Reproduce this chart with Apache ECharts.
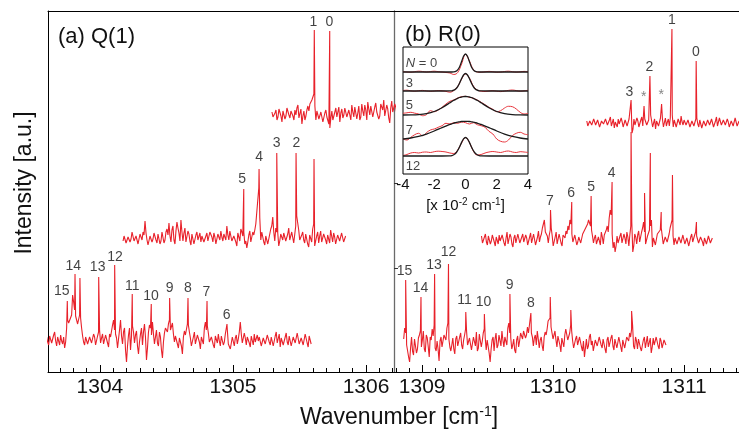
<!DOCTYPE html>
<html><head><meta charset="utf-8">
<script src="https://cdn.jsdelivr.net/npm/echarts@6/dist/echarts.min.js"></script>
<style>html,body{margin:0;padding:0;background:#fff}#c{width:739px;height:437px}</style>
</head><body><div id="c"></div><script>
// ---------------- data ----------------
const STEP = 0.015; // sampling step of the spectra [cm^-1]; "B" arrays are the samples half a step later

// Panel (a) Q(1): three spectra (top, middle, bottom)
const q1TopStart = 1305.293, q1TopBase = 258;
const q1TopNoise = [2,-5,4,-3,6,-8,1,-2,7,-4, 5,-6,-1,9,-3,-10,3,-2,8,10, 14,20,-6,2,-7,-3,-9,4,-5,-14,
  3,-4,6,-2,-8,5,-1,8,-5,2, 9,-3,6,1,-6,10,-2,4,12,-1, 6,-4,11,3,-2,8,14,-3,5,-9, 13,4,7];
const q1TopNoiseB = [-3,1,-6,5,-2,3,-5,6,-1,3, -2,4,6,-4,5,-2,-6,4,3,12, 17,8,3,-5,2,-8,1,-3,-10,-4,
  -6,2,-3,7,1,-4,6,-3,4,-6, 2,7,-5,8,-3,3,9,-6,5,8, -3,7,2,-5,10,4,-2,9,-4,6, 2,10,1];
const q1TopPeaks = [[1305.611,84],[1305.727,83]];

const q1MidStart = 1304.174, q1MidBase = 134;
const q1MidNoise = [-3,4,-6,2,-1,5,-4,3,-7,1, 6,17,-2,-6,3,-1,7,-5,2,-3, 4,-2,9,15,-4,12,-6,16,5,18,
  -3,10,-2,4,-7,2,-5,6,-1,-4, 3,-6,5,-2,8,-4,1,-5,3,7, -3,5,12,-2,6,-5,3,-8,4,9,
  2,-6,-10,3,-4,6,8,26,50,-2, 5,-7,3,-5,9,21,-3,6,-8,4, -2,7,-5,10,-3,4,-6,22,8,-4,
  6,-5,3,-9,4,9,-8,2,-5,7, -3,5,-6,2,8,-4,1,-7,4,-2,6,-3];
const q1MidNoiseB = [2,-5,1,-4,6,-3,2,-6,4,-2, 3,5,-7,2,-4,5,-2,4,-6,6, -5,6,3,2,8,-2,7,10,-3,6,
  5,-4,7,-3,4,-6,3,-2,5,2, -4,2,-3,6,1,5,-6,4,-2,1, 4,-2,3,7,-3,2,-4,5,-3,6,
  6,-3,-4,7,-2,3,14,38,20,6, -4,2,-6,4,12,6,10,5,-3,2, 5,-3,4,-2,6,-5,12,15,-2,3,
  -2,4,-6,3,-4,14,-3,6,2,-4, 4,-2,3,-5,2,5,-6,3,-3,5,-4,2];
const q1MidPeaks = [[1305.081,49],[1305.196,69],[1305.329,85],[1305.474,85],[1305.609,79]];

const q1LowStart = 1303.600, q1LowBase = 32;
const q1LowNoise = [3,-5,6,-2,8,-6,2,5,-4,-8, 12,17,19,45,30,20,18,22,4,-5, 2,-6,5,-1,3,-4,8,-3,6,-2,
  4,-7,3,15,10,2,-6,20,-4,12, -22,5,-10,14,-3,9,-14,6,-5,16, -20,8,12,18,-4,10,-6,3,-18,7,
  14,16,10,17,-2,5,-8,4,-14,9, 6,15,2,-5,8,-3,6,-9,4,12, 10,7,-4,5,-8,2,6,-6,3,-2,
  8,-4,-9,3,-6,5,1,18,-3,7, -5,4,-7,2,6,-4,-1,5,-8,3, -3,6,-5,2,-6,8,-2,-7,4,-4,
  7,-5,2,-8,5,-3,6,-6,3,-4,5,-7,2];
const q1LowNoiseB = [-2,4,-3,5,-1,3,-5,-1,3,-2, 20,15,25,38,24,16,25,12,-2,3, -4,3,-3,6,-5,4,10,2,-4,5,
  -3,6,9,20,6,-8,10,4,8,-10, -6,12,4,8,5,-6,-2,12,8,3, -8,15,5,6,3,-3,8,-10,-2,12,
  8,20,12,6,4,-4,2,-6,3,5, 16,8,-6,3,-4,5,-2,3,-4,18, 14,-2,3,-5,4,-3,-1,4,-5,6,
  10,-6,-3,5,2,-4,8,6,-5,2, 3,-3,4,-5,-2,5,3,-6,2,-4, 5,-2,3,-6,4,-3,6,2,-5,3,
  -2,4,-6,3,-3,7,-4,2,-5,6,-3,4,-4];
const q1LowPeaks = [[1303.755,39],[1303.813,66],[1303.850,62],[1303.991,63],[1304.111,75],[1304.243,46],
  [1304.386,36],[1304.524,42],[1304.662,42],[1304.805,39],[1304.955,16]];

// Panel (b) R(0)
const r0TopStart = 1310.257, r0TopBase = 249;
const r0TopNoise = [2,-4,3,-1,5,-3,1,-5,4,-2, 3,-4,6,-1,-5,2,4,-3,1,-6, 5,-2,3,-10,4,-3,2,-5,6,-2,
  3,-4,5,2,-3,-6,4,-2,3,-4, 5,1,-3,6,-4,2,-5,3,7,-2, 4,-3,1,-5,3,-2,5,-4,2,-6,
  4,-1,5,-3,2,-5,6,-2,3,-4, 5,-3,1,-5,4,-2,3,-1];
const r0TopNoiseB = [-3,2,-2,4,-2,3,-4,2,-1,4, -2,3,-3,4,1,-4,-1,5,-4,3, -3,4,5,-6,-2,5,-4,3,-3,4,
  -2,3,8,-4,4,2,-3,5,4,-2, -3,4,5,8,3,-4,4,-2,1,3, -2,3,-4,2,-3,4,-1,3,-5,2,
  -3,3,-2,4,-4,2,-3,5,-2,3, -2,4,-4,2,-3,5,-3,2];
const r0TopPeaks = [[1310.595,23],[1310.694,17],[1310.739,47],[1310.828,19],[1310.907,94],[1311.092,62]];

const r0MidStart = 1309.453, r0MidBase = 132;
const r0MidNoise = [4,-2,6,-5,3,-1,7,-6,2,5, -3,4,-6,8,-2,3,-7,5,-1,4, -5,6,-3,2,-6,7,-2,4,-4,9,
  3,12,20,6,-3,10,4,-5,8,-2, 5,-6,3,9,14,20,6,-4,7,-2, 4,-5,8,12,16,18,10,-3,5,-6,
  2,8,-4,6,14,22,25,-8,-12,4, -3,7,-5,2,8,-6,14,-12,6,-4, 9,3,12,8,-5,6,14,-7,3,-4,
  8,10,4,-6,5,-3,12,20,-5,3, -6,4,-2,7,-5,3,-4,6,-3,8, 2,-5,4,-6,3,-2,5,-4];
const r0MidNoiseB = [-3,3,-2,4,-4,5,-2,3,-4,-1, 5,-3,2,-4,6,-4,2,-3,6,-3, 3,-2,5,-5,3,-3,6,-5,3,-2,
  6,14,8,4,5,12,-6,3,-4,6, -3,5,2,6,10,16,-2,5,-5,3, -3,6,4,10,20,14,4,2,-4,3,
  -5,3,5,10,8,30,6,-2,-6,-3, 4,-3,6,-4,3,5,18,-6,3,5, -2,8,18,-4,4,10,20,2,-5,6,
  4,12,-4,3,-2,6,16,4,2,-4, 3,-3,5,-4,2,-6,3,-2,5,4, -3,3,-2,2,-4,4,-3,2];
const r0MidPeaks = [[1309.980,30],[1310.142,38],[1310.290,44],[1310.450,58],[1310.595,108],[1310.698,47],
  [1310.742,87],[1310.825,28],[1310.911,65],[1311.094,18]];

const r0LowStart = 1308.859, r0LowBase = 29;
const r0LowNoise = [4,10,-8,-19,6,-12,3,-6,8,-4, 12,-9,5,-14,3,7,-5,2,-18,6, -3,9,15,4,-8,5,-11,7,-4,10,
  -6,8,12,-3,6,-9,4,11,-5,7, 2,14,-7,5,-19,3,-8,10,-2,6, 12,-4,8,15,10,-6,4,-10,7,2,
  9,12,5,16,18,10,-3,8,12,-5, 6,-8,11,14,20,16,4,12,-4,6, -9,3,8,12,5,18,2,-6,7,-3,
  5,-8,-14,4,-3,9,2,-6,5,-4, 7,-5,3,-10,6,-2,8,-7,4,-3, 5,-9,2,-4,7,10,14,-3,6,-6,
  4,-8,3,-5,7,-2,-10,5,-4,8,-6,2,-7,4];
const r0LowNoiseB = [15,-2,-14,-5,-8,4,-10,5,12,3, -6,8,-4,6,14,18,-8,-6,2,-4, 8,3,20,-4,-2,-6,4,-3,6,-2,
  3,14,-2,5,-7,6,-3,-8,9,-4, 10,5,3,-10,-6,6,4,-5,8,-3, 3,6,-2,20,5,-2,-7,3,-4,10,
  4,14,8,10,20,6,5,-2,4,3, -3,6,8,22,25,10,8,3,7,-2, 5,-4,14,3,10,12,-5,4,-2,6,
  -4,2,-5,-6,6,-2,-8,3,-3,6, -2,4,-6,3,-4,5,-3,4,-5,6, -4,3,-5,6,2,6,18,-6,2,4,
  -5,-2,6,-3,-4,5,-4,-2,6,-3,5,-5,3,-2];
const r0LowPeaks = [[1308.874,63],[1308.991,46],[1309.095,69],[1309.201,79],[1309.333,31],[1309.475,29],
  [1309.670,49],[1309.830,30],[1309.978,46],[1310.135,33],[1310.599,32]];

// Peak labels (text, wavenumber, height)
const q1Labels = [['1',1305.604,350],['0',1305.724,350],['5',1305.068,193],['4',1305.196,215],['3',1305.329,229],
  ['2',1305.476,229],['15',1303.713,81],['14',1303.800,106],['13',1303.983,105],['12',1304.113,115],
  ['11',1304.243,86],['10',1304.384,76],['9',1304.524,84],['8',1304.662,84],['7',1304.800,80],['6',1304.953,57]];
const r0Labels = [['3',1310.582,280],['2',1310.734,305],['1',1310.907,352],['0',1311.089,320],
  ['7',1309.975,171],['6',1310.138,179],['5',1310.290,185],['4',1310.447,199],
  ['15',1308.866,101],['14',1308.988,84],['13',1309.090,107],['12',1309.201,120],['11',1309.323,72],
  ['10',1309.468,70],['9',1309.668,87],['8',1309.830,69]];
const r0Stars = [['*',1310.691,275],['*',1310.825,277]];

// Inset: line shapes, offset [x 10^-2 cm^-1]
const insetX = [-4,-3.75,-3.5,-3.25,-3,-2.75,-2.5,-2.25,-2,-1.75,-1.5,-1.25,-1,-0.75,-0.5,-0.25,0,
  0.25,0.5,0.75,1,1.25,1.5,1.75,2,2.25,2.5,2.75,3,3.25,3.5,3.75,4];
const insetN = ['N = 0','3','5','7','12'];
const insetData = [
  [102.5,102,101.8,102.3,102.8,102.5,102,102.4,102.8,102.3,102,101.5,101,99.5,101.5,110,119.5,113,104.5,102,101.8,102.2,102.6,102.3,101.8,102,102.5,102.8,102.3,101.9,102.2,102.6,102.3],
  [83.5,83.8,83.2,82.8,83.3,83.6,83.1,82.7,83,83.4,83.2,82.6,81.8,83.5,87.5,95,100,96,88,84,82.8,82.5,83,83.3,82.8,82.4,82.9,83.6,84,83.4,82.8,83.2,83.7],
  [60.7,61.2,61.7,60.8,60,58.3,59.3,63.3,62.3,64,66.7,70,72.7,74,76,77.3,77.7,76.7,75.7,74,71.7,69.3,66.7,64.7,62.3,63.3,66,67.7,67.3,65,61.7,60,60.7],
  [35,34,36.7,39.3,40.7,38.3,41.3,44,45,46.7,48.3,50.7,50,51.3,50.7,52,51.3,50,51.3,49.3,48.3,46.7,42.7,40,35,32.7,32,34,38.3,40.7,41.7,40,39.3],
  [18.5,19.5,21,21.5,21,21.8,22,21.5,22.3,22.8,22.5,22,21,20.5,24,31,36.5,31.5,23,19,19.5,21,22,22.5,22,21.5,22.5,23,22,21.5,22.3,22,21.5]
];
const fitX = [-4,-3.5,-3,-2.5,-2,-1.5,-1,-0.875,-0.75,-0.625,-0.5,-0.375,-0.25,-0.125,0,
  0.125,0.25,0.375,0.5,0.625,0.75,0.875,1,1.5,2,2.5,3,3.5,4];
const insetFit = [
  [102,102,102,102,102,102,102,102,102.1,102.6,104.1,107.3,112.5,117.7,120,117.7,112.5,107.3,104.1,102.6,102.1,102,102,102,102,102,102,102,102],
  [83,83,83,83,83,83,83.1,83.2,83.8,85,87.4,91,95.4,99,100.5,99,95.4,91,87.4,85,83.8,83.2,83.1,83,83,83,83,83,83],
  [59,59.1,59.45,60.4,62.5,66.3,71.2,72.5,73.7,74.7,75.7,76.5,77,77.4,77.5,77.4,77,76.5,75.7,74.7,73.7,72.5,71.2,66.3,62.5,60.4,59.45,59.1,59],
  [35,36,37.6,39.9,43,46.4,49.6,50.2,50.9,51.4,51.9,52.2,52.5,52.65,52.7,52.65,52.5,52.2,51.9,51.4,50.9,50.2,49.6,46.4,43,39.9,37.6,36,35],
  [18,18,18,18,18,18,18.1,18.4,19.2,20.7,23.5,27.3,31.6,35.1,36.5,35.1,31.6,27.3,23.5,20.7,19.2,18.4,18.1,18,18,18,18,18,18]
];
const insetLabelPos = [[-3.85,110.7],[-3.85,90.7],[-3.85,68.3],[-3.85,44],[-3.85,7.3]];

// ---------------- build ----------------
function trace(start, base, a, b, peaks) {
  const pts = a.map((d, i) => [start + i * STEP, base + d]);
  b.forEach((d, i) => pts.push([start + (i + 0.5) * STEP, base + d]));
  peaks.forEach(p => pts.push([p[0], base + p[1]]));
  pts.sort((u, v) => u[0] - v[0]);
  return pts;
}
const FONT = '"Liberation Sans", Arial, Helvetica, sans-serif';
const RED = '#e8212a';
function range(a, b) { const out = []; for (let k = Math.round(a * 10); k <= Math.round(b * 10); k++) { if (k % 10) out.push(k / 10); } return out; }

const A = {min: 1303.61, max: 1306.21}, B = {min: 1308.785, max: 1311.419};
function major(g, r, ticks) {
  return {type: 'value', gridIndex: g, min: r.min, max: r.max, position: 'bottom',
    axisLine: {show: true, onZero: false, lineStyle: {color: '#000', width: 1}},
    axisTick: {show: true, inside: true, length: 7, customValues: ticks, lineStyle: {color: '#000'}},
    axisLabel: {show: true, customValues: ticks, fontSize: 21, color: '#111', margin: 5, fontFamily: FONT, formatter: v => String(v)},
    splitLine: {show: false}};
}
function minor(g, r) {
  return {type: 'value', gridIndex: g, min: r.min, max: r.max, position: 'bottom',
    axisLine: {show: false}, axisLabel: {show: false}, splitLine: {show: false},
    axisTick: {show: true, inside: true, length: 4, customValues: range(r.min, r.max), lineStyle: {color: '#000'}}};
}
function topAx(g, r) {
  return {type: 'value', gridIndex: g, min: r.min, max: r.max, position: 'top',
    axisLine: {show: true, onZero: false, lineStyle: {color: '#000'}}, axisTick: {show: false},
    axisLabel: {show: false}, splitLine: {show: false}};
}
function line(xi, yi, data, color, w, smooth) {
  return {type: 'line', xAxisIndex: xi, yAxisIndex: yi, data, showSymbol: false, symbol: 'none',
    smooth: smooth || false, lineStyle: {color, width: w}, silent: true, animation: false, z: 3};
}
function labels(xi, yi, arr, color, size) {
  return {type: 'scatter', xAxisIndex: xi, yAxisIndex: yi, symbolSize: 1, itemStyle: {color: 'rgba(0,0,0,0)'},
    data: arr.map(l => ({name: l[0], value: [l[1], l[2]]})), silent: true, animation: false, z: 5,
    label: {show: true, position: 'inside', formatter: '{b}', color, fontSize: size, fontFamily: FONT}};
}

const series = [
  line(0, 0, trace(q1TopStart, q1TopBase, q1TopNoise, q1TopNoiseB, q1TopPeaks), RED, 1.1),
  line(0, 0, trace(q1MidStart, q1MidBase, q1MidNoise, q1MidNoiseB, q1MidPeaks), RED, 1.1),
  line(0, 0, trace(q1LowStart, q1LowBase, q1LowNoise, q1LowNoiseB, q1LowPeaks), RED, 1.1),
  line(3, 1, trace(r0TopStart, r0TopBase, r0TopNoise, r0TopNoiseB, r0TopPeaks), RED, 1.1),
  line(3, 1, trace(r0MidStart, r0MidBase, r0MidNoise, r0MidNoiseB, r0MidPeaks), RED, 1.1),
  line(3, 1, trace(r0LowStart, r0LowBase, r0LowNoise, r0LowNoiseB, r0LowPeaks), RED, 1.1),
  labels(0, 0, q1Labels, '#111', 14),
  labels(3, 1, r0Labels, '#111', 14),
  labels(3, 1, r0Stars, '#666', 14)
];
insetData.forEach(d => {
  series.push(line(6, 2, d.map((v, i) => [insetX[i], v]), '#e8343b', 1, 0.4));
});
insetFit.forEach(d => {
  series.push(Object.assign(line(6, 2, d.map((v, i) => [fitX[i], v]), '#1a1a1a', 1.3, 0.3), {z: 4}));
});
series.push({type: 'scatter', xAxisIndex: 6, yAxisIndex: 2, symbolSize: 1, itemStyle: {color: 'rgba(0,0,0,0)'},
  data: insetN.map((n, k) => ({name: n, value: insetLabelPos[k]})), silent: true, animation: false, z: 6,
  label: {show: true, position: 'right', distance: 0, color: '#111', fontSize: 13, fontFamily: FONT,
    formatter: p => p.name.indexOf('N') === 0 ? '{i|N} = 0' : p.name,
    rich: {i: {fontStyle: 'italic', fontSize: 13, fontFamily: FONT, color: '#111'}}}});

const option = {
  animation: false,
  backgroundColor: '#fff',
  textStyle: {fontFamily: FONT},
  grid: [
    {left: 48, top: 11, width: 346, height: 361},
    {left: 394, top: 11, width: 346, height: 361},
    {left: 403, top: 47, width: 125, height: 127, show: true, borderColor: '#000', borderWidth: 1, backgroundColor: '#fff', z: 2}
  ],
  xAxis: [
    major(0, A, [1304, 1305, 1306]), minor(0, A), topAx(0, A),
    major(1, B, [1309, 1310, 1311]), minor(1, B), topAx(1, B),
    {type: 'value', gridIndex: 2, min: -4, max: 4, interval: 2, position: 'bottom',
      axisLine: {show: false}, axisTick: {show: false}, splitLine: {show: false},
      axisLabel: {fontSize: 15, color: '#111', margin: 3, fontFamily: FONT},
      name: '[x 10{s|-2} cm{s|-1}]', nameLocation: 'middle', nameGap: 23,
      nameTextStyle: {fontSize: 15, color: '#111', fontFamily: FONT,
        rich: {s: {fontSize: 10, color: '#111', fontFamily: FONT, padding: [0, 0, 8, 0]}}}}
  ],
  yAxis: [
    {type: 'value', gridIndex: 0, min: 0, max: 361, axisLine: {show: true, onZero: false, lineStyle: {color: '#000'}},
      axisTick: {show: false}, axisLabel: {show: false}, splitLine: {show: false}},
    {type: 'value', gridIndex: 1, min: 0, max: 361, axisLine: {show: true, onZero: false, lineStyle: {color: '#6a6a6a', width: 1.3}},
      axisTick: {show: true, inside: true, length: 4, customValues: [104, 189], lineStyle: {color: '#333'}},
      axisLabel: {show: false}, splitLine: {show: false}},
    {type: 'value', gridIndex: 2, min: 0, max: 127, axisLine: {show: false}, axisTick: {show: false},
      axisLabel: {show: false}, splitLine: {show: false}}
  ],
  graphic: [
    {type: 'text', x: 58, y: 37, style: {text: '(a) Q(1)', font: '22px ' + FONT, fill: '#111', verticalAlign: 'middle'}},
    {type: 'text', x: 405, y: 35, style: {text: '(b) R(0)', font: '22px ' + FONT, fill: '#111', verticalAlign: 'middle'}},
    {type: 'text', x: 25, y: 183, rotation: Math.PI / 2,
      style: {text: 'Intensity [a.u.]', font: '23px ' + FONT, fill: '#111', align: 'center', verticalAlign: 'middle'}},
    {type: 'text', x: 399, y: 418,
      style: {text: 'Wavenumber [cm{s|-1}]', font: '23px ' + FONT, fill: '#111', align: 'center', verticalAlign: 'middle',
        rich: {s: {fontSize: 14, fontFamily: FONT, fill: '#111', padding: [0, 0, 11, 0]}}}}
  ],
  series
};
const chart = echarts.init(document.getElementById('c'));
chart.setOption(option);
</script></body></html>
